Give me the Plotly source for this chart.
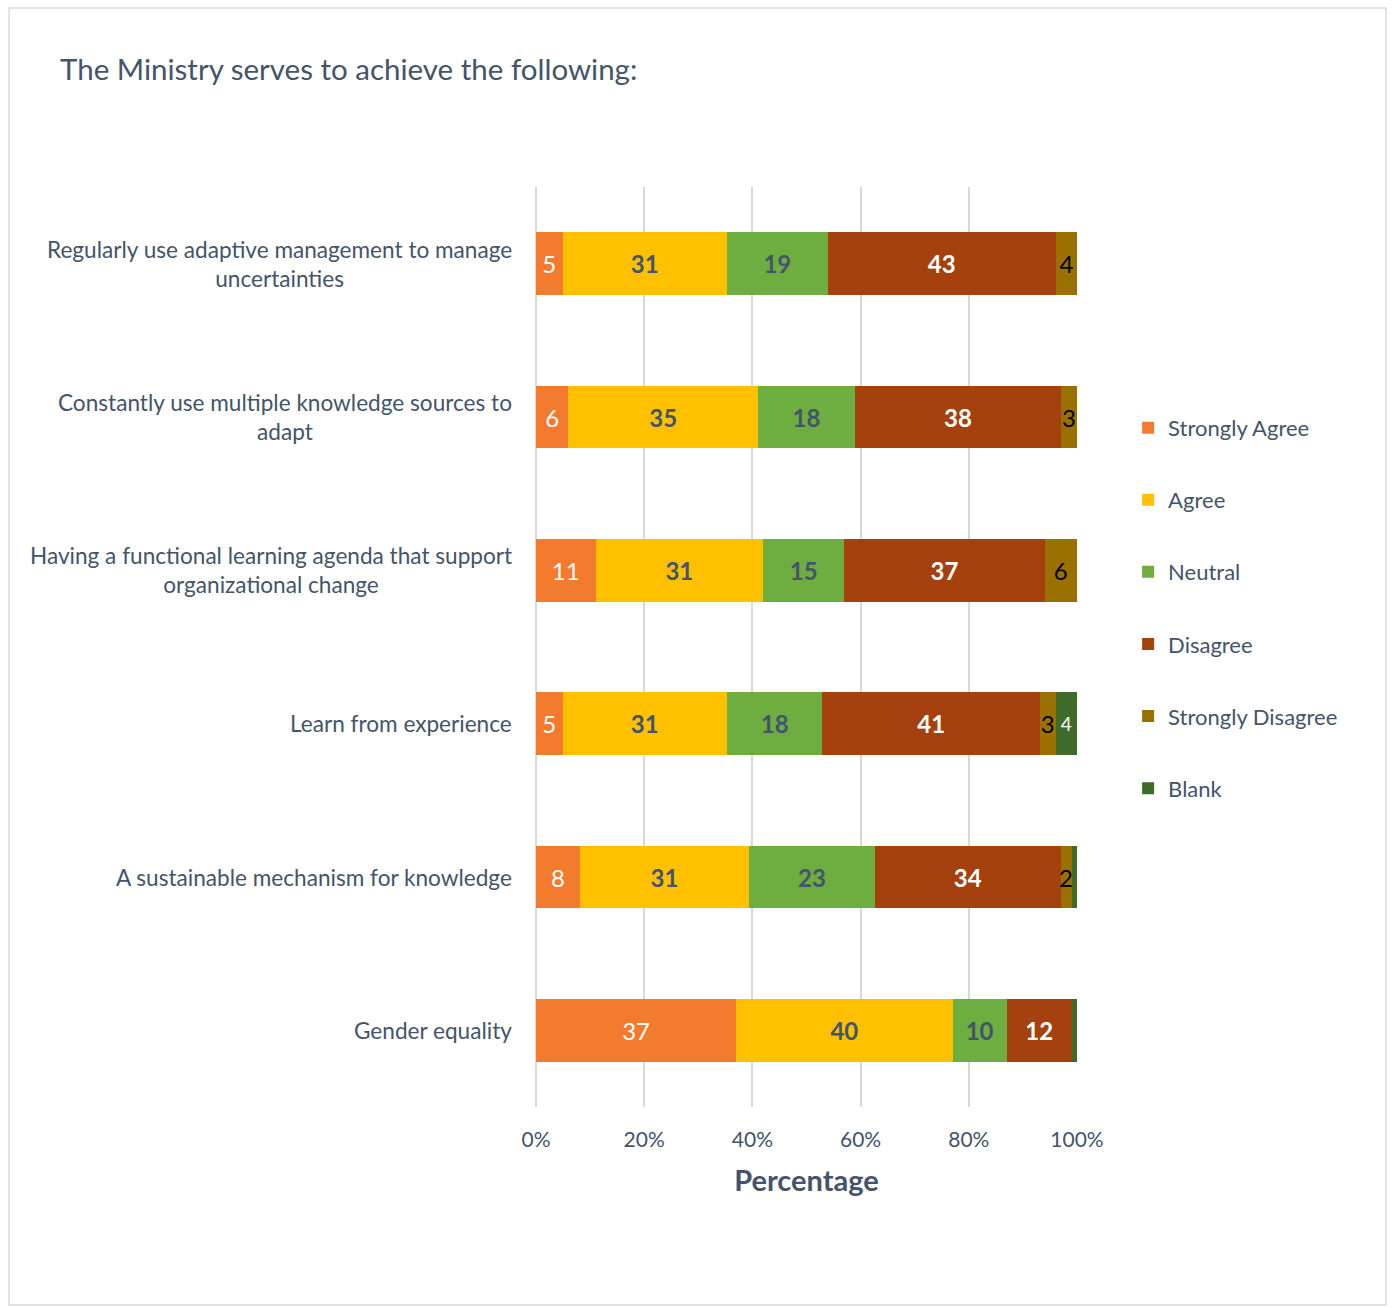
import plotly.graph_objects as go

# Survey statements (top to bottom) and response counts per answer
statements = [
    "Regularly use adaptive management to manage<br>uncertainties",
    "Constantly use multiple knowledge sources to<br>adapt",
    "Having a functional learning agenda that support<br>organizational change",
    "Learn from experience",
    "A sustainable mechanism for knowledge",
    "Gender equality",
]
strongly_agree = [5, 6, 11, 5, 8, 37]
agree = [31, 35, 31, 31, 31, 40]
neutral = [19, 18, 15, 18, 23, 10]
disagree = [43, 38, 37, 41, 34, 12]
strongly_disagree = [4, 3, 6, 3, 2, 0]
blank = [0, 0, 0, 4, 1, 1]
blank_labels = ["", "", "", "4", "", ""]

tick_vals = [0, 20, 40, 60, 80, 100]
tick_text = ["0%", "20%", "40%", "60%", "80%", "100%"]

FONT = "Lato"
INK = "#44546A"

series = [
    ("Strongly Agree", strongly_agree, "#F37B2F", dict(color="white", size=24, family=FONT), None),
    ("Agree", agree, "#FFC000", dict(color=INK, size=24, family=FONT, weight="bold"), None),
    ("Neutral", neutral, "#6EAD3F", dict(color=INK, size=24, family=FONT, weight="bold"), None),
    ("Disagree", disagree, "#A4410E", dict(color="white", size=24, family=FONT, weight="bold"), None),
    ("Strongly Disagree", strongly_disagree, "#9A7000", dict(color="black", size=24, family=FONT), None),
    ("Blank", blank, "#3E6A2A", dict(color="white", size=19, family=FONT), blank_labels),
]

fig = go.Figure()
for i, (name, vals, color, tfont, labels) in enumerate(series):
    if labels is None:
        labels = [str(v) if v else "" for v in vals]
    fig.add_trace(go.Bar(
        name=name,
        y=statements,
        x=vals,
        orientation="h",
        marker=dict(color=color, line=dict(width=0)),
        text=labels,
        textposition="inside",
        insidetextanchor="middle",
        constraintext="none",
        textfont=tfont,
        legendgroup=f"g{i}",
        hoverinfo="skip",
    ))

# Category labels, centred line by line and right-aligned to the plot edge
for s in statements:
    fig.add_annotation(
        x=0, xref="paper", xshift=-22, xanchor="right",
        y=s, yref="y", yanchor="middle",
        text=s, showarrow=False, align="center",
        font=dict(family=FONT, size=22.6, color=INK),
    )

# Light outer frame of the chart area
fig.add_shape(
    type="rect", xref="paper", yref="paper",
    x0=-0.974, x1=1.571, y0=-0.2152, y1=1.1946,
    line=dict(color="#D9D9D9", width=1.5), fillcolor="rgba(0,0,0,0)", layer="below",
)

fig.update_layout(
    width=1393, height=1308,
    margin=dict(l=536, r=316, t=187, b=201),
    barmode="stack", barnorm="percent", bargap=0.59,
    paper_bgcolor="white", plot_bgcolor="white",
    font=dict(family=FONT, color=INK),
    title=dict(
        text="The Ministry serves to achieve the following:",
        x=60 / 1393, xref="container", xanchor="left",
        y=1 - 70 / 1308, yref="container", yanchor="middle",
        font=dict(family=FONT, size=29.5, color=INK),
    ),
    legend=dict(
        x=1.0945, xanchor="left", y=0.542, yanchor="middle",
        font=dict(family=FONT, size=22, color=INK),
        tracegroupgap=40.5, traceorder="grouped",
        bgcolor="rgba(0,0,0,0)",
    ),
    showlegend=True,
)

fig.update_xaxes(
    range=[0, 100], tickvals=tick_vals, ticktext=tick_text,
    showgrid=True, gridcolor="#D9D9D9", gridwidth=1.5,
    zeroline=True, zerolinecolor="#D9D9D9", zerolinewidth=1.5,
    showline=False, ticks="",
    ticklabelstandoff=18,
    tickfont=dict(family=FONT, size=21, color=INK),
    title=dict(text="<b>Percentage</b>", standoff=20,
               font=dict(family=FONT, size=29, color=INK)),
    fixedrange=True,
)
fig.update_yaxes(
    categoryorder="array", categoryarray=statements, autorange="reversed",
    showticklabels=False, showgrid=False, zeroline=False, showline=False,
    fixedrange=True,
)

fig.write_html("out.html")
